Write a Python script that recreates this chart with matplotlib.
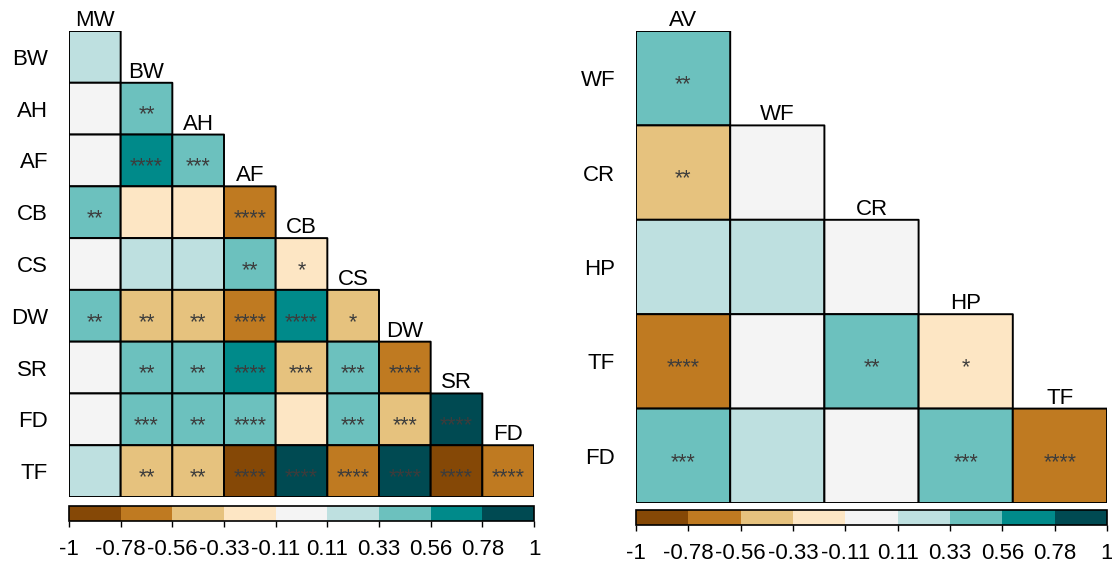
import numpy as np
import matplotlib
matplotlib.use("Agg")
import matplotlib.pyplot as plt
from matplotlib.colors import ListedColormap, BoundaryNorm
from matplotlib.transforms import offset_copy

plt.rcParams['font.family'] = ['Liberation Sans', 'DejaVu Sans']

# ---------------- data ----------------
left_vars = ["MW", "BW", "AH", "AF", "CB", "CS", "DW", "SR", "FD", "TF"]
left_corr = [
    [0.22],
    [0.0, 0.45],
    [0.0, 0.67, 0.45],
    [0.45, -0.22, -0.22, -0.67],
    [0.0, 0.22, 0.22, 0.45, -0.22],
    [0.45, -0.45, -0.45, -0.67, 0.67, -0.45],
    [0.0, 0.45, 0.45, 0.67, -0.45, 0.45, -0.67],
    [0.0, 0.45, 0.45, 0.45, -0.22, 0.45, -0.45, 0.89],
    [0.22, -0.45, -0.45, -0.89, 0.89, -0.67, 0.89, -0.89, -0.67],
]
left_sig = [
    [""],
    ["", "**"],
    ["", "****", "***"],
    ["**", "", "", "****"],
    ["", "", "", "**", "*"],
    ["**", "**", "**", "****", "****", "*"],
    ["", "**", "**", "****", "***", "***", "****"],
    ["", "***", "**", "****", "", "***", "***", "****"],
    ["", "**", "**", "****", "****", "****", "****", "****", "****"],
]

right_vars = ["AV", "WF", "CR", "HP", "TF", "FD"]
right_corr = [
    [0.45],
    [-0.45, 0.0],
    [0.22, 0.22, 0.0],
    [-0.67, 0.0, 0.45, -0.22],
    [0.45, 0.22, 0.0, 0.45, -0.67],
]
right_sig = [
    ["**"],
    ["**", ""],
    ["", "", ""],
    ["****", "", "**", "*"],
    ["***", "", "", "***", "****"],
]

bounds = [-1, -0.78, -0.56, -0.33, -0.11, 0.11, 0.33, 0.56, 0.78, 1]
tick_labels = ["-1", "-0.78", "-0.56", "-0.33", "-0.11", "0.11", "0.33", "0.56", "0.78", "1"]
colors = ["#854806", "#bf7a21", "#e6c27e", "#fde6c4", "#f4f4f4",
          "#bee0e0", "#6cc1be", "#008a8a", "#004a52"]

cmap = ListedColormap(colors)
norm = BoundaryNorm(bounds, cmap.N)

fig = plt.figure(figsize=(11.12, 5.64), dpi=100)
W, H = 1112, 564


def frac(x0, y0, x1, y1):
    return [x0 / W, (H - y1) / H, (x1 - x0) / W, (y1 - y0) / H]


def draw(ax, cax, vars_, corr, sig):
    n = len(corr)
    M = np.full((n, n), np.nan)
    for i, row in enumerate(corr):
        M[i, :len(row)] = row
    Mm = np.ma.masked_invalid(M)
    mesh = ax.pcolor(np.arange(n + 1), np.arange(n + 1), Mm, cmap=cmap, norm=norm,
                     edgecolors='black', linewidth=1.4)
    ax.set_xlim(0, n)
    ax.set_ylim(n, 0)
    for s in ax.spines.values():
        s.set_visible(False)
    ax.set_xticks([])
    ax.set_yticks(np.arange(n) + 0.5)
    ax.set_yticklabels(vars_[1:])
    ax.tick_params(axis='y', length=0, pad=15, labelsize=16)
    # column labels above top cell of each column
    for j in range(n):
        ax.text(j + 0.5, j, vars_[j], ha='center', va='bottom', fontsize=16,
                clip_on=False)
    star_tr = offset_copy(ax.transData, fig=fig, y=-12, units='dots')
    for i, row in enumerate(sig):
        for j, s in enumerate(row):
            if s:
                ax.text(j + 0.5, i + 0.5, s, ha='center', va='baseline',
                        fontsize=15.5, color='#3c3c3c', transform=star_tr)
    cb = fig.colorbar(mesh, cax=cax, orientation='horizontal', ticks=bounds)
    cb.set_ticklabels(tick_labels)
    cax.tick_params(length=4, width=1, pad=9, labelsize=16)
    cb.outline.set_linewidth(1.2)
    return mesh


axL = fig.add_axes(frac(69, 31, 534, 497))
caxL = fig.add_axes(frac(69, 506, 534, 521))
draw(axL, caxL, left_vars, left_corr, left_sig)

axR = fig.add_axes(frac(636, 31, 1107, 503))
caxR = fig.add_axes(frac(636, 510, 1107, 525))
draw(axR, caxR, right_vars, right_corr, right_sig)

fig.savefig("out.png", dpi=100)
